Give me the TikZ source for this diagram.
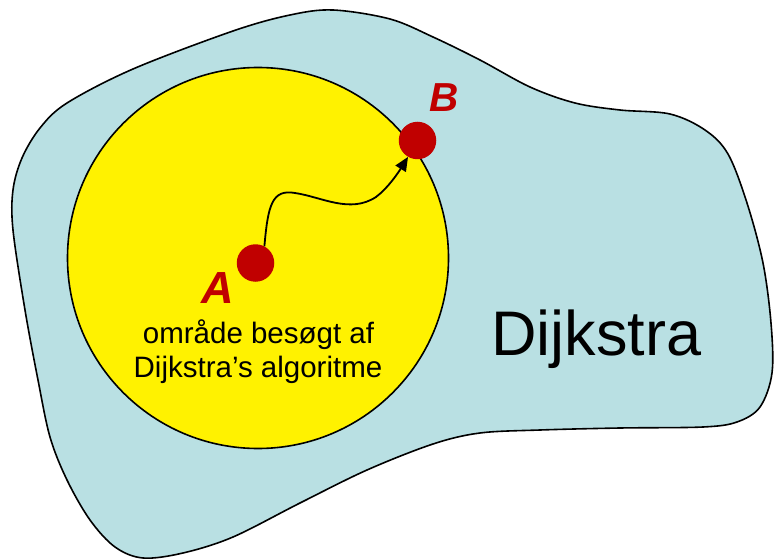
\documentclass[tikz,border=0pt]{standalone}
\usepackage{fontspec}
\setmainfont{Liberation Sans}
\usetikzlibrary{arrows.meta}
\definecolor{blobblue}{RGB}{185,224,227}
\definecolor{dotred}{RGB}{192,0,0}
\tikzset{
  outline/.style={draw=black, line width=1.6pt},
  dotnode/.style={circle, fill=dotred, minimum size=37.5pt, inner sep=0pt},
  ptlabel/.style={text=dotred, font=\bfseries\itshape, inner sep=0pt, anchor=base},
  smalltext/.style={font=\fontsize{29.5}{34}\selectfont, inner sep=0pt, anchor=base},
  pathline/.style={line width=1.8pt, -{Triangle[length=14pt,width=12pt]}}
}
\begin{document}
\begin{tikzpicture}[x=1pt,y=-1pt]
\useasboundingbox (0,0) rectangle (774,559);
\draw[outline, fill=blobblue] plot[smooth cycle, tension=0.55] coordinates {
 (333,10) (390,19) (433,37) (480,60) (530,87) (575,103) (620,110) (670,114)
 (705,130) (728,154) (747,203) (763,263) (771,323) (772,373) (760,407)
 (737,422) (703,427) (620,428) (540,430) (480,433) (433,444) (367,470)
 (300,503) (233,537) (183,553) (143,558) (115,547) (90,520) (67,480)
 (50,437) (38,380) (25,310) (13,230) (13,190) (22,158) (40,128) (67,103)
 (133,69) (233,31) (290,15)};
\node[outline, circle, fill=yellow, minimum size=381pt, inner sep=0pt] (visited) at (258,258) {};
\node[dotnode] (Adot) at (255.5,263) {};
\node[dotnode] (Bdot) at (417.5,140.5) {};
\coordinate (w1) at (295,193);
\coordinate (w2) at (376,197);
\draw[pathline] (Adot.62) .. controls (268,205) and (272,189) .. (w1)
  .. controls (322,197) and (350,214) .. (w2)
  .. controls (388,188) and (398,173) .. (Bdot.240);
\node[ptlabel, font=\fontsize{45}{50}\selectfont\bfseries\itshape] (Alabel) at (218,303) {A};
\node[ptlabel, font=\fontsize{40.5}{46}\selectfont\bfseries\itshape] (Blabel) at (444,112) {B};
\node[smalltext] (line1) at (258.5,343) {område besøgt af};
\node[smalltext] (line2) at (258,377) {Dijkstra’s algoritme};
\node[font=\fontsize{63}{70}\selectfont, inner sep=0pt, anchor=base] (dijk) at (596.5,355) {Dijkstra};
\end{tikzpicture}
\end{document}
